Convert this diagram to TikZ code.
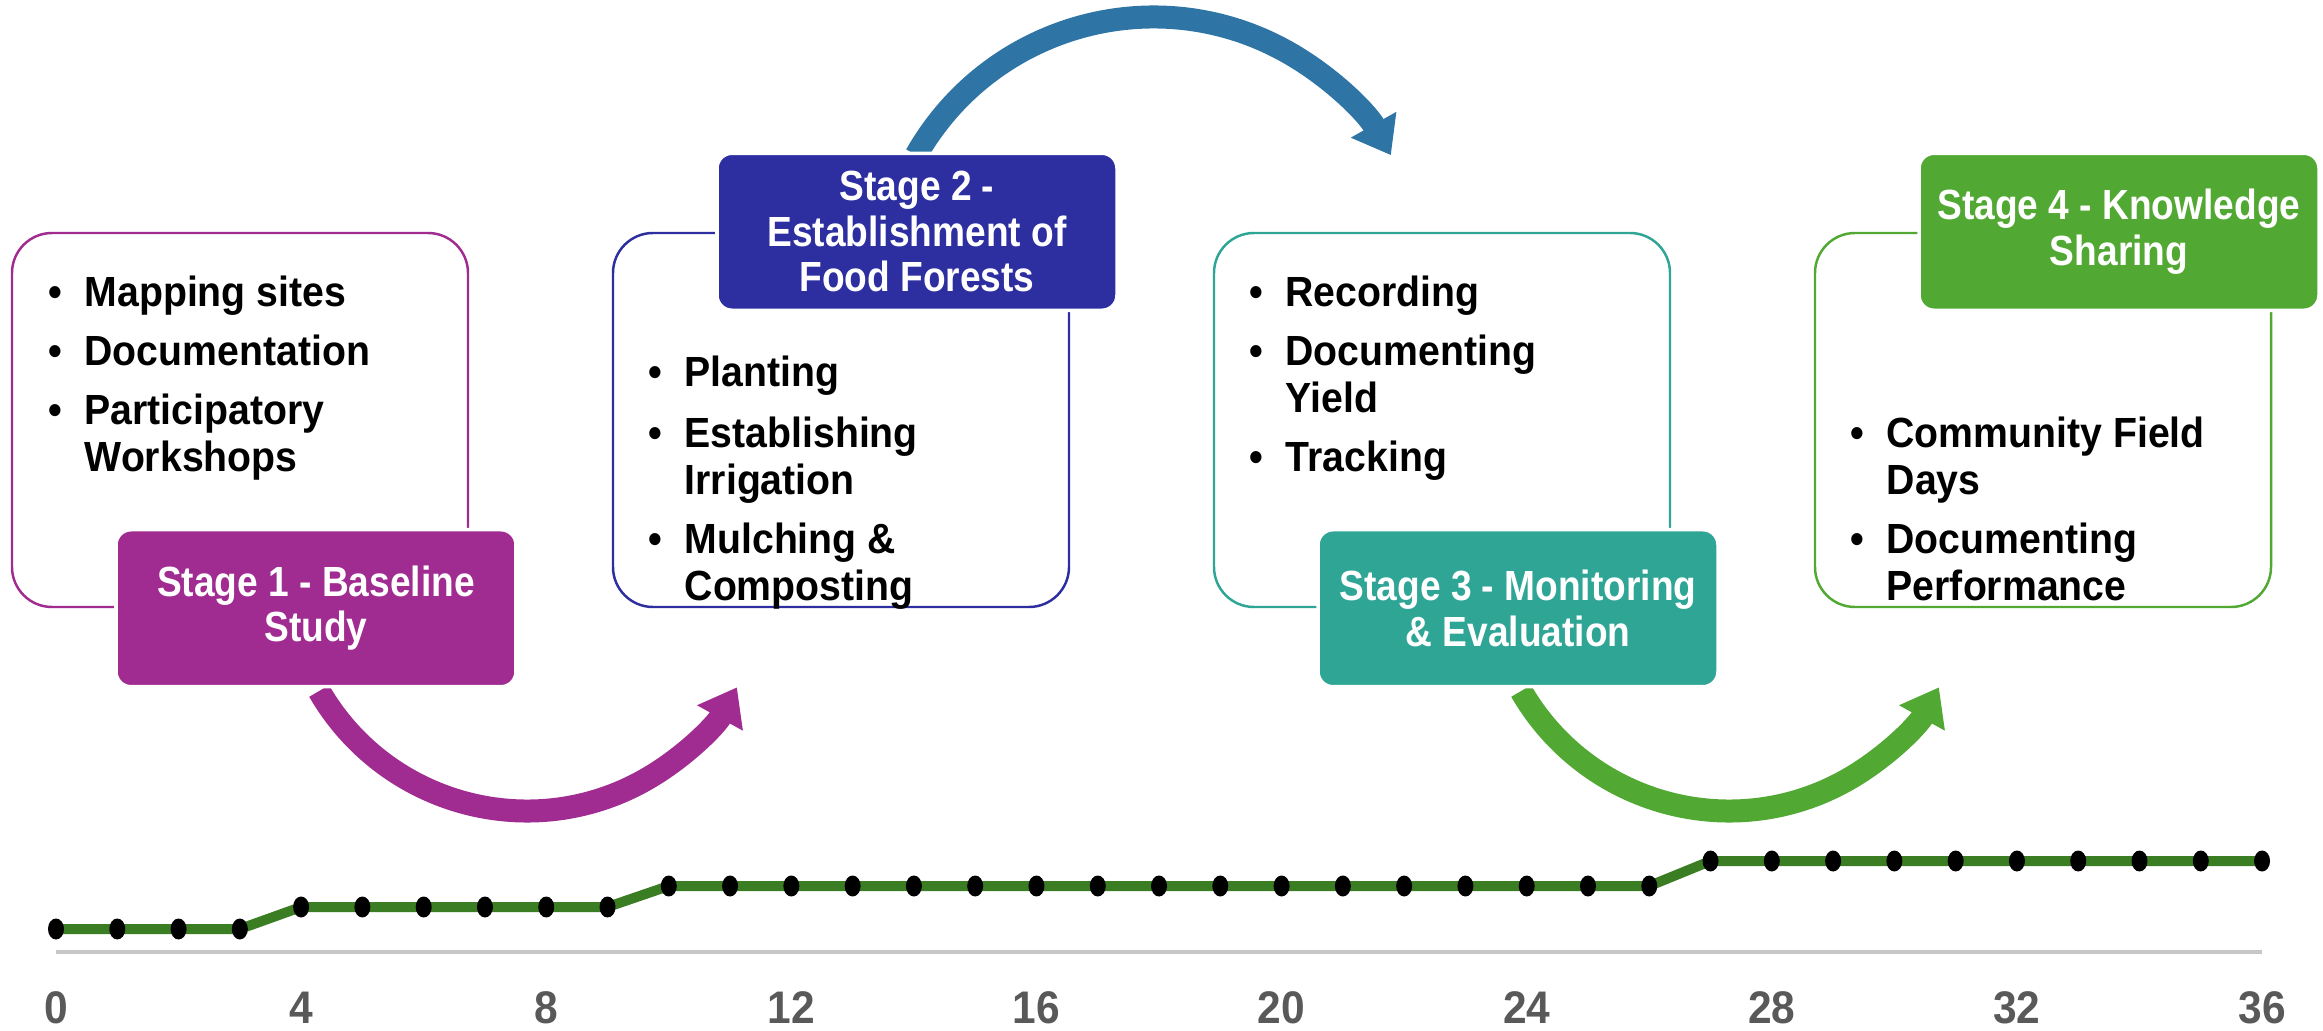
\documentclass[tikz,border=0pt]{standalone}
\usepackage{fontspec}
\setmainfont{Liberation Sans}[FakeStretch=0.93]
\newfontfamily\stagefont{Liberation Sans}[FakeStretch=0.88]
\usetikzlibrary{arrows.meta,positioning}
\definecolor{purp}{HTML}{A02B91}
\definecolor{navy}{HTML}{2D2EA0}
\definecolor{sea}{HTML}{2EA595}
\definecolor{leaf}{HTML}{51A832}
\definecolor{sky}{HTML}{2E74A5}
\definecolor{chartgreen}{HTML}{3B7D23}
\definecolor{tickgray}{HTML}{595959}
\newcommand\bul{\llap{\textbullet\hspace{0.22cm}}}
\begin{document}
\begin{tikzpicture}
[line join=round,
 listbox/.style={draw=#1, line width=0.7pt, fill=white, rounded corners=0.4cm,
   minimum width=4.56cm, minimum height=3.74cm},
 stage/.style={fill=#1, draw=white, line width=1pt, rounded corners=0.15cm,
   minimum width=4cm, minimum height=1.57cm, inner sep=0pt, align=center,
   text=white, font=\stagefont\bfseries\fontsize{12}{13}\selectfont},
 entry/.style={anchor=base west, inner sep=0pt, font=\bfseries\fontsize{12}{13}\selectfont},
 curvy/.style={draw=#1, line width=0.23cm, -{Triangle[width=0.5cm,length=0.35cm]}},
 tick/.style={anchor=base, inner sep=0pt, text=tickgray, font=\bfseries\fontsize{13}{13}\selectfont}]
\useasboundingbox (0,0) rectangle (23.23,10.30);

% curved arrows between the stages
\coordinate (c1) at (5.27,4.59);
\coordinate (c2) at (17.29,4.59);
\coordinate (c3) at (11.535,7.40);
\draw[curvy=purp] ([shift={(210:2.4)}]c1) arc[start angle=210, end angle=331, radius=2.4];
\draw[curvy=leaf] ([shift={(210:2.4)}]c2) arc[start angle=210, end angle=331, radius=2.4];
\draw[curvy=sky] ([shift={(150.4:2.73)}]c3) arc[start angle=150.4, end angle=29.6, radius=2.73];

% boxes and stage labels
\node[listbox=purp] (box1) at (2.40,6.10) {};
\node[listbox=navy] (box2) at (8.41,6.10) {};
\node[listbox=sea]  (box3) at (14.42,6.10) {};
\node[listbox=leaf] (box4) at (20.43,6.10) {};
\node[stage=purp] (lab1) at ([xshift=0.76cm]box1.south) {Stage 1 - Baseline\\Study};
\node[stage=navy] (lab2) at ([xshift=0.76cm]box2.north) {Stage 2 -\\Establishment of\\Food Forests};
\node[stage=sea]  (lab3) at ([xshift=0.76cm]box3.south) {Stage 3 - Monitoring\\\& Evaluation};
\node[stage=leaf] (lab4) at ([xshift=0.76cm]box4.north) {Stage 4 - Knowledge\\Sharing};

\foreach \y/\t [count=\k] in {7.23/\bul Mapping sites, 6.64/\bul Documentation,
  6.05/\bul Participatory, 5.58/Workshops}
\node[entry] (a\k) at (0.84,\y) {\t};
\foreach \y/\t [count=\k] in {6.43/\bul Planting, 5.82/\bul Establishing, 5.35/Irrigation,
  4.76/\bul Mulching \&, 4.29/Composting}
\node[entry] (b\k) at (6.84,\y) {\t};
\foreach \y/\t [count=\k] in {7.23/\bul Recording, 6.64/\bul Documenting, 6.17/Yield,
  5.58/\bul Tracking}
\node[entry] (c\k) at (12.85,\y) {\t};
\foreach \y/\t [count=\k] in {5.82/\bul Community Field, 5.35/Days, 4.76/\bul Documenting,
  4.29/Performance}
\node[entry] (d\k) at (18.86,\y) {\t};

% timeline
\foreach \i in {0,...,36}{
  \pgfmathsetmacro\h{\i<4 ? 1.01 : (\i<10 ? 1.23 : (\i<27 ? 1.44 : 1.69))}
  \coordinate (p\i) at ({0.56+0.6128*\i},\h);
}
\coordinate (ax0) at (0.56,0.78);
\coordinate (ax1) at (22.62,0.78);
\coordinate (tk) at (0,0.07);
\draw[color=black!22, line width=0.04cm] (ax0) -- (ax1);
\draw[chartgreen, line width=0.1cm] (p0) \foreach \i in {1,...,36}{ -- (p\i)};
\foreach \i in {0,...,36} \fill (p\i) ellipse[x radius=0.08, y radius=0.105];
\foreach \i in {0,4,...,36} \node[tick] (n\i) at (p\i |- tk) {\i};
\end{tikzpicture}
\end{document}
